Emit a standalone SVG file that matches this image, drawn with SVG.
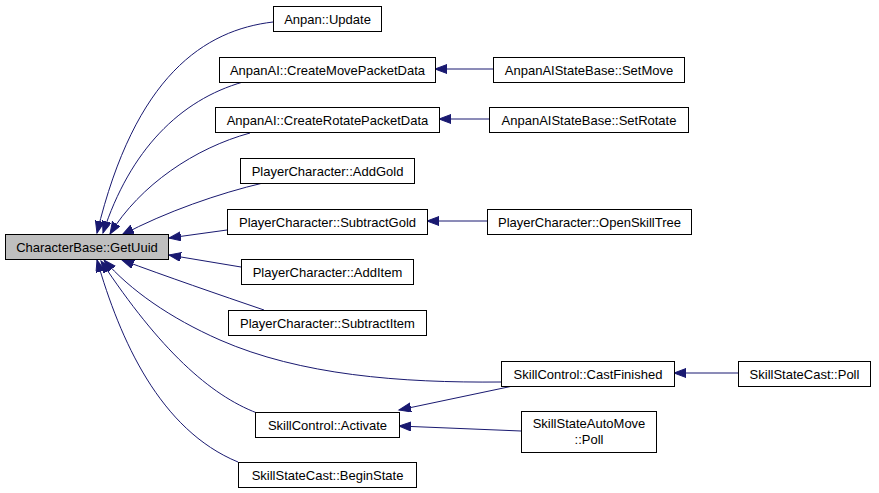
<svg xmlns="http://www.w3.org/2000/svg" width="879" height="493" viewBox="0 0 879 493">
<style>
.n rect{fill:#fff;stroke:#000;stroke-width:1}
.root rect{fill:#bfbfbf}
text{font-family:"Liberation Sans",Arial,sans-serif;font-size:13px;fill:#000;text-anchor:middle}
.e path{fill:none;stroke:#191970;stroke-width:1;marker-end:url(#ah)}
</style>
<defs>
<marker id="ah" markerUnits="userSpaceOnUse" markerWidth="14" markerHeight="11" refX="12" refY="4.5" orient="auto">
<polygon points="0,0 12,4.5 0,9" fill="#191970" stroke="#191970" stroke-width="1"/>
</marker>
</defs>
<rect width="879" height="493" fill="#fff"/>
<g id="edges" class="e">
<path d="M273,22 C205,30 135,75 97,233"/>
<path d="M243,82 C180,100 130,150 103,233"/>
<path d="M250,133 C195,148 140,185 110,234"/>
<path d="M263,183 C220,193 165,212 122,235"/>
<path d="M227,230 L169,238"/>
<path d="M241,267 L169,255"/>
<path d="M264,310 C220,295 165,276 122,260"/>
<path d="M501,382 C400,383 300,375 220,340 C170,318 130,290 104,260"/>
<path d="M257,413 C210,395 160,350 101,261"/>
<path d="M238,462 C160,430 120,340 97,260"/>
<path d="M493,69 L435,69"/>
<path d="M489,119 L439,119"/>
<path d="M487,221 L427,221"/>
<path d="M738,373 L674,373"/>
<path d="M513,386 L399,410"/>
<path d="M521,431 L399,426"/>
</g>
<g id="n_root" class="n root"><rect x="5.5" y="234.5" width="163" height="25"/><text x="87" y="252">CharacterBase::GetUuid</text></g>
<g id="n_update" class="n"><rect x="273.5" y="6.5" width="108" height="25"/><text x="327.5" y="24">Anpan::Update</text></g>
<g id="n_move" class="n"><rect x="219.5" y="57.5" width="216" height="25"/><text x="327.5" y="75">AnpanAI::CreateMovePacketData</text></g>
<g id="n_rotate" class="n"><rect x="215.5" y="107.5" width="224" height="25"/><text x="327.5" y="125">AnpanAI::CreateRotatePacketData</text></g>
<g id="n_addgold" class="n"><rect x="240.5" y="158.5" width="174" height="25"/><text x="327.5" y="176">PlayerCharacter::AddGold</text></g>
<g id="n_subgold" class="n"><rect x="227.5" y="209.5" width="200" height="25"/><text x="327.5" y="227">PlayerCharacter::SubtractGold</text></g>
<g id="n_additem" class="n"><rect x="241.5" y="259.5" width="172" height="25"/><text x="327.5" y="277">PlayerCharacter::AddItem</text></g>
<g id="n_subitem" class="n"><rect x="228.5" y="310.5" width="198" height="25"/><text x="327.5" y="328">PlayerCharacter::SubtractItem</text></g>
<g id="n_activate" class="n"><rect x="255.5" y="412.5" width="144" height="25"/><text x="327.5" y="430">SkillControl::Activate</text></g>
<g id="n_begin" class="n"><rect x="238.5" y="462.5" width="178" height="25"/><text x="327.5" y="480">SkillStateCast::BeginState</text></g>
<g id="n_setmove" class="n"><rect x="493.5" y="57.5" width="191" height="25"/><text x="589" y="75">AnpanAIStateBase::SetMove</text></g>
<g id="n_setrotate" class="n"><rect x="489.5" y="107.5" width="199" height="25"/><text x="589" y="125">AnpanAIStateBase::SetRotate</text></g>
<g id="n_skilltree" class="n"><rect x="487.5" y="209.5" width="204" height="25"/><text x="589.5" y="227">PlayerCharacter::OpenSkillTree</text></g>
<g id="n_cast" class="n"><rect x="501.5" y="361.5" width="173" height="25"/><text x="588" y="379">SkillControl::CastFinished</text></g>
<g id="n_automove" class="n"><rect x="521.5" y="411.5" width="135" height="41"/><text x="589" y="428">SkillStateAutoMove</text><text x="589" y="444">::Poll</text></g>
<g id="n_castpoll" class="n"><rect x="738.5" y="361.5" width="132" height="25"/><text x="804.5" y="379">SkillStateCast::Poll</text></g>
</svg>
